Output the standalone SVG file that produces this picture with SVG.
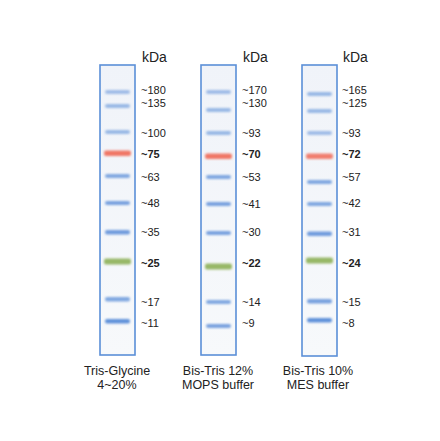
<svg xmlns="http://www.w3.org/2000/svg" width="440" height="441" viewBox="0 0 440 441">
<style>
.gel{fill:url(#gelg);stroke:#5b8fd8;stroke-width:1.6}
.b{fill:#4f86d6}
.r{fill:#f0604e}
.g{fill:#86ad4e}
.lbl{font-family:"Liberation Sans",Arial,sans-serif;font-size:11px;fill:#222}
.bold{font-weight:bold}
.kda{font-family:"Liberation Sans",Arial,sans-serif;font-size:14px;fill:#222}
.cap{font-family:"Liberation Sans",Arial,sans-serif;font-size:12.5px;fill:#222;text-anchor:middle}
</style>
<defs>
<linearGradient id="gelg" x1="0" y1="0" x2="0" y2="1">
<stop offset="0" stop-color="#f0f3f9"/>
<stop offset="1" stop-color="#f7f9fb"/>
</linearGradient>
<filter id="blur" x="-20%" y="-100%" width="140%" height="300%"><feGaussianBlur stdDeviation="1.1"/></filter>
</defs>
<rect width="440" height="441" fill="#ffffff"/>

<g id="lane1">
<rect class="gel" x="100" y="65" width="35" height="290"/>
<g filter="url(#blur)">
<rect class="b" x="105" y="90" width="25" height="4" rx="2" opacity="0.5"/>
<rect class="b" x="105" y="104" width="25" height="4" rx="2" opacity="0.55"/>
<rect class="b" x="105" y="130" width="25" height="4" rx="2" opacity="0.55"/>
<rect class="r" x="104" y="150.5" width="27" height="5.5" rx="2" opacity="0.85"/>
<rect class="b" x="105" y="174" width="25" height="4" rx="2" opacity="0.7"/>
<rect class="b" x="105" y="201" width="25" height="4" rx="2" opacity="0.75"/>
<rect class="b" x="105" y="230" width="25" height="4.5" rx="2" opacity="0.8"/>
<rect class="g" x="104" y="258.5" width="27" height="6" rx="2" opacity="0.85"/>
<rect class="b" x="105" y="297" width="25" height="4.5" rx="2" opacity="0.7"/>
<rect class="b" x="105" y="319" width="25" height="4.5" rx="2" opacity="0.9"/>
</g>
<text class="kda" x="142" y="62">kDa</text>
<text class="lbl" x="141" y="94">~180</text>
<text class="lbl" x="141" y="107">~135</text>
<text class="lbl" x="141" y="137">~100</text>
<text class="lbl bold" x="141" y="158">~75</text>
<text class="lbl" x="141" y="181">~63</text>
<text class="lbl" x="141" y="207">~48</text>
<text class="lbl" x="141" y="236">~35</text>
<text class="lbl bold" x="141" y="267">~25</text>
<text class="lbl" x="141" y="306">~17</text>
<text class="lbl" x="141" y="327">~11</text>
<text class="cap" x="117" y="375">Tris-Glycine</text>
<text class="cap" x="117" y="389">4~20%</text>
</g>

<g id="lane2">
<rect class="gel" x="201" y="65" width="35" height="290"/>
<g filter="url(#blur)">
<rect class="b" x="206" y="90" width="25" height="4" rx="2" opacity="0.5"/>
<rect class="b" x="206" y="108" width="25" height="4" rx="2" opacity="0.55"/>
<rect class="b" x="206" y="131" width="25" height="4" rx="2" opacity="0.55"/>
<rect class="r" x="205" y="153.5" width="27" height="5.5" rx="2" opacity="0.85"/>
<rect class="b" x="206" y="175" width="25" height="4" rx="2" opacity="0.7"/>
<rect class="b" x="206" y="202" width="25" height="4" rx="2" opacity="0.75"/>
<rect class="b" x="206" y="231" width="25" height="4" rx="2" opacity="0.75"/>
<rect class="g" x="205" y="263.5" width="27" height="6" rx="2" opacity="0.85"/>
<rect class="b" x="206" y="300" width="25" height="4" rx="2" opacity="0.7"/>
<rect class="b" x="206" y="324" width="25" height="4" rx="2" opacity="0.75"/>
</g>
<text class="kda" x="243" y="62">kDa</text>
<text class="lbl" x="242" y="94">~170</text>
<text class="lbl" x="242" y="107">~130</text>
<text class="lbl" x="242" y="137">~93</text>
<text class="lbl bold" x="242" y="158">~70</text>
<text class="lbl" x="242" y="181">~53</text>
<text class="lbl" x="242" y="208">~41</text>
<text class="lbl" x="242" y="236">~30</text>
<text class="lbl bold" x="242" y="267">~22</text>
<text class="lbl" x="242" y="306">~14</text>
<text class="lbl" x="242" y="327">~9</text>
<text class="cap" x="218" y="375">Bis-Tris 12%</text>
<text class="cap" x="218" y="389">MOPS buffer</text>
</g>

<g id="lane3">
<rect class="gel" x="302" y="65" width="35" height="291"/>
<g filter="url(#blur)">
<rect class="b" x="307" y="92" width="25" height="4" rx="2" opacity="0.55"/>
<rect class="b" x="307" y="109" width="25" height="4" rx="2" opacity="0.55"/>
<rect class="b" x="307" y="131" width="25" height="4" rx="2" opacity="0.5"/>
<rect class="r" x="306" y="153.5" width="27" height="5.5" rx="2" opacity="0.8"/>
<rect class="b" x="307" y="180" width="25" height="4" rx="2" opacity="0.7"/>
<rect class="b" x="307" y="202" width="25" height="4" rx="2" opacity="0.7"/>
<rect class="b" x="307" y="231.5" width="25" height="4.5" rx="2" opacity="0.8"/>
<rect class="g" x="306" y="257.5" width="27" height="6" rx="2" opacity="0.85"/>
<rect class="b" x="307" y="299" width="25" height="4.5" rx="2" opacity="0.75"/>
<rect class="b" x="307" y="318" width="25" height="4.5" rx="2" opacity="0.9"/>
</g>
<text class="kda" x="343" y="62">kDa</text>
<text class="lbl" x="342" y="94">~165</text>
<text class="lbl" x="342" y="107">~125</text>
<text class="lbl" x="342" y="137">~93</text>
<text class="lbl bold" x="342" y="158">~72</text>
<text class="lbl" x="342" y="181">~57</text>
<text class="lbl" x="342" y="207">~42</text>
<text class="lbl" x="342" y="236">~31</text>
<text class="lbl bold" x="342" y="267">~24</text>
<text class="lbl" x="342" y="306">~15</text>
<text class="lbl" x="342" y="327">~8</text>
<text class="cap" x="318" y="375">Bis-Tris 10%</text>
<text class="cap" x="318" y="389">MES buffer</text>
</g>
</svg>
